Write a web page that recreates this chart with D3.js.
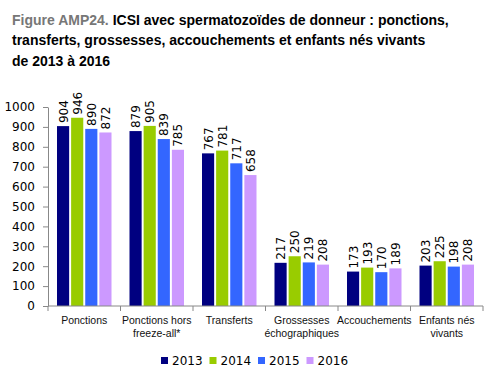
<!DOCTYPE html>
<html><head><meta charset="utf-8">
<script src="https://cdn.jsdelivr.net/npm/d3@7"></script>
<style>body{margin:0;background:#fff}svg{display:block}</style>
</head><body><svg id="c" width="498" height="380"></svg>
<script>
const categories = [["Ponctions"],["Ponctions hors","freeze-all*"],["Transferts"],["Grossesses","échographiques"],["Accouchements"],["Enfants nés","vivants"]];
const years = ["2013","2014","2015","2016"];
const v2013 = [904,879,767,217,173,203];
const v2014 = [946,905,781,250,193,225];
const v2015 = [890,839,717,219,170,198];
const v2016 = [872,785,658,208,189,208];
const yTicks = [0,100,200,300,400,500,600,700,800,900,1000];
const colors = ["#000080","#99CC00","#3366FF","#CC99FF"];
const series = [v2013,v2014,v2015,v2016];

const svg = d3.select("#c");
// Title
const t = svg.append("text").attr("x",12).attr("y",25).style("font-family","Liberation Sans, Arial").style("font-size","14px").style("font-weight","bold");
t.append("tspan").attr("fill","#777").text("Figure AMP24. ");
t.append("tspan").attr("fill","#000").text("ICSI avec spermatozoïdes de donneur : ponctions,");
svg.append("text").attr("x",12).attr("y",45).style("font-family","Liberation Sans, Arial").style("font-size","14px").style("font-weight","bold").text("transferts, grossesses, accouchements et enfants nés vivants");
svg.append("text").attr("x",12).attr("y",66).style("font-family","Liberation Sans, Arial").style("font-size","14px").style("font-weight","bold").text("de 2013 à 2016");

const x0 = d3.scaleBand().domain(d3.range(categories.length)).range([48,483]).paddingInner(0).paddingOuter(0);
const x1 = d3.scaleBand().domain(years).range([9, x0.bandwidth()-9]).paddingInner(0.14).paddingOuter(0);
const y = d3.scaleLinear().domain([0,1000]).range([306,107]);

// Y axis
const ya = svg.append("g").attr("transform","translate(48,0)")
  .call(d3.axisLeft(y).tickValues(yTicks).tickFormat(d3.format("d")).tickSize(5).tickPadding(8).tickSizeOuter(0));
ya.select(".domain").attr("stroke","#888");
ya.selectAll(".tick line").attr("stroke","#888");
ya.selectAll(".tick text").style("font-family","DejaVu Sans, Verdana").style("font-size","12px").attr("fill","#000");

// bars
const g = svg.append("g");
categories.forEach((c,i)=>{
  years.forEach((yr,j)=>{
    const v = series[j][i];
    const bx = x0(i)+x1(yr);
    g.append("rect").attr("x",bx).attr("y",y(v)).attr("width",x1.bandwidth()).attr("height",306-y(v)).attr("fill",colors[j]);
    g.append("text").attr("transform",`translate(${bx+x1.bandwidth()/2+4.5},${y(v)-3}) rotate(-90)`)
      .style("font-family","DejaVu Sans, Verdana").style("font-size","12px").attr("fill","#000").text(v);
  });
});

// X axis
const xa = svg.append("g").attr("transform","translate(0,306)");
xa.append("line").attr("x1",48).attr("x2",483).attr("stroke","#888");
d3.range(categories.length+1).forEach(i=>{
  const xx = 48 + i*x0.bandwidth();
  xa.append("line").attr("x1",xx).attr("x2",xx).attr("y1",0).attr("y2",5).attr("stroke","#888");
});
categories.forEach((c,i)=>{
  const tx = svg.append("text").attr("x",x0(i)+x0.bandwidth()/2).attr("y",324).attr("text-anchor","middle")
    .style("font-family","Liberation Sans, Arial").style("font-size","10.5px").attr("fill","#111");
  c.forEach((line,k)=>tx.append("tspan").attr("x",x0(i)+x0.bandwidth()/2).attr("dy",k?13:0).text(line));
});

// legend
const lg = svg.append("g");
years.forEach((yr,j)=>{
  const lx = 161 + j*48.5;
  lg.append("rect").attr("x",lx).attr("y",357).attr("width",7).attr("height",7).attr("fill",colors[j]);
  lg.append("text").attr("x",lx+11).attr("y",364.5).style("font-family","DejaVu Sans, Verdana").style("font-size","12px").attr("fill","#000").text(yr);
});
</script></body></html>
